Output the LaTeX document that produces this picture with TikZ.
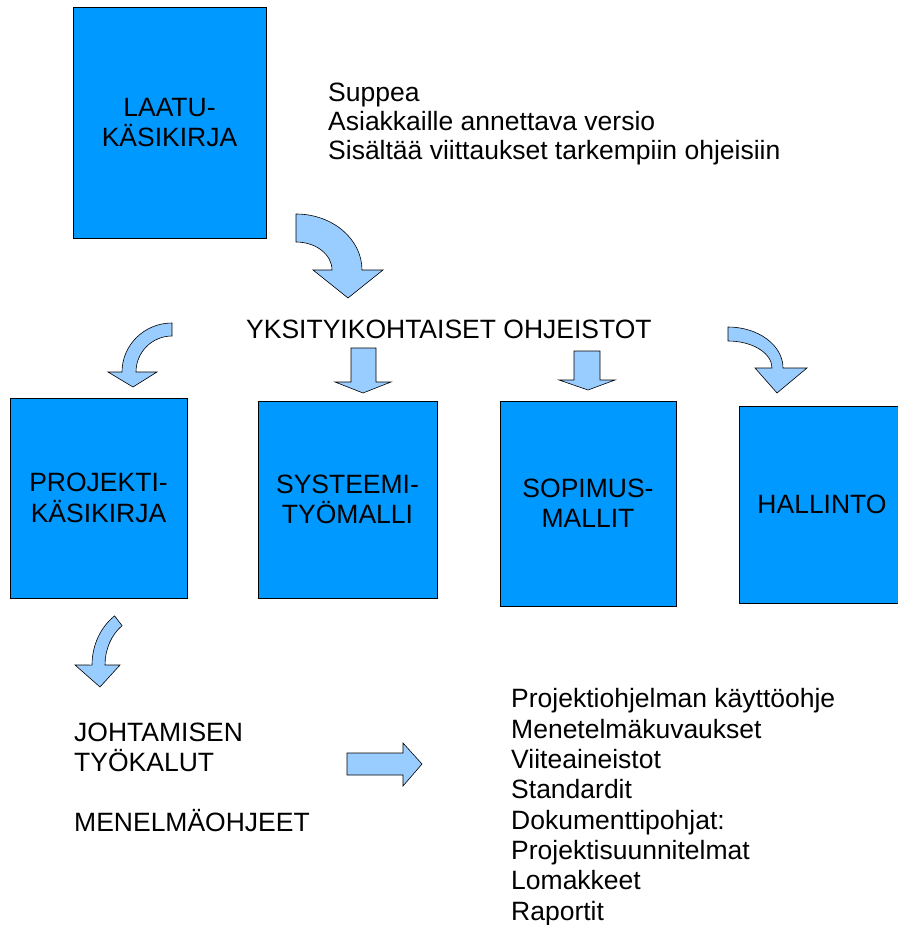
\documentclass[tikz,border=0pt]{standalone}
\usepackage{fontspec}
\setmainfont{Liberation Sans}
\usetikzlibrary{positioning}

\definecolor{boxblue}{RGB}{0,153,255}
\definecolor{arrowblue}{RGB}{153,204,255}

\begin{document}
\begin{tikzpicture}[
			x=1pt, y=-1pt,
			nodes = {
				font=\fontsize{26.5}{30.3}\selectfont
			},
			box/.style={
				draw=black,
				fill=boxblue,
				rectangle,
				line width=0.8pt,
				align=center,
				inner sep=0pt
			},
			note/.style={
				align=left,
				anchor=base west,
				inner sep=0pt
			},
			bigarrow/.style={
				draw=black,
				fill=arrowblue,
				line width=0.6pt,
				line join=miter
			}
		]
			\useasboundingbox (0,0) rectangle (897,925);

			\node[box, minimum width=193pt, minimum height=231pt] (laatu) at (169.5,122.5) {LAATU-\\KÄSIKIRJA};
			\node[note, font=\fontsize{26.5}{29}\selectfont] (suppea) at (328,160) {Suppea\\Asiakkaille annettava versio\\Sisältää viittaukset tarkempiin ohjeisiin};

			\node[note] (ohjeistot) at (246,338) {YKSITYIKOHTAISET OHJEISTOT};

			\node[box, minimum width=177pt, minimum height=200pt] (projekti) at (98.5,498) {PROJEKTI-\\KÄSIKIRJA};
			\node[box, minimum width=179pt, minimum height=197pt] (systeemi) at (347.5,499.5) {SYSTEEMI-\\TYÖMALLI};
			\node[box, minimum width=176pt, minimum height=205pt] (sopimus) at (588,503.5) {SOPIMUS-\\MALLIT};
			\node[box, minimum width=166pt, minimum height=197pt] (hallinto) at (822,504.5) {HALLINTO};

			\node[note, font=\fontsize{26.5}{30}\selectfont] (johtaminen) at (74,831) {JOHTAMISEN\\TYÖKALUT\\[30pt]MENELMÄOHJEET};
			\node[note] (lista) at (511,920) {Projektiohjelman käyttöohje\\Menetelmäkuvaukset\\Viiteaineistot\\Standardit\\Dokumenttipohjat:\\Projektisuunnitelmat\\Lomakkeet\\Raportit};

			% curved arrows
			\draw[bigarrow] (296,214) arc[start angle=-90, end angle=0, x radius=66, y radius=56]
				-- (383,270) -- (348,298) -- (313,270) -- (332,270)
				arc[start angle=0, end angle=-90, x radius=36, y radius=28] -- cycle;
			\draw[bigarrow] (172,323) arc[start angle=-90, end angle=-180, x radius=50, y radius=49]
				-- (108,372) -- (133,387) -- (157,372) -- (136,372)
				arc[start angle=180, end angle=270, x radius=36, y radius=36] -- cycle;
			\draw[bigarrow] (728,327) arc[start angle=-90, end angle=0, x radius=55, y radius=41]
				-- (807,368) -- (777,393) -- (755,368) -- (772,368)
				arc[start angle=0, end angle=-90, x radius=44, y radius=27] -- cycle;
			\draw[bigarrow] (114.6,615.9) arc[start angle=-125, end angle=-180, x radius=53, y radius=60]
				-- (75,665) -- (100,687) -- (120,665) -- (105,665)
				arc[start angle=180, end angle=235, x radius=40, y radius=48] -- cycle;

			% straight arrows
			\draw[bigarrow] (351,348) -- (376,348) -- (376,382) -- (391,382) -- (363,393)
				-- (335,382) -- (351,382) -- cycle;
			\draw[bigarrow] (574,351) -- (600,351) -- (600,380) -- (615,380) -- (588,390)
				-- (559,380) -- (574,380) -- cycle;
			\draw[bigarrow] (347,753) -- (403,753) -- (403,743) -- (422,764) -- (403,786)
				-- (403,775) -- (347,775) -- cycle;

		\end{tikzpicture}
\end{document}
